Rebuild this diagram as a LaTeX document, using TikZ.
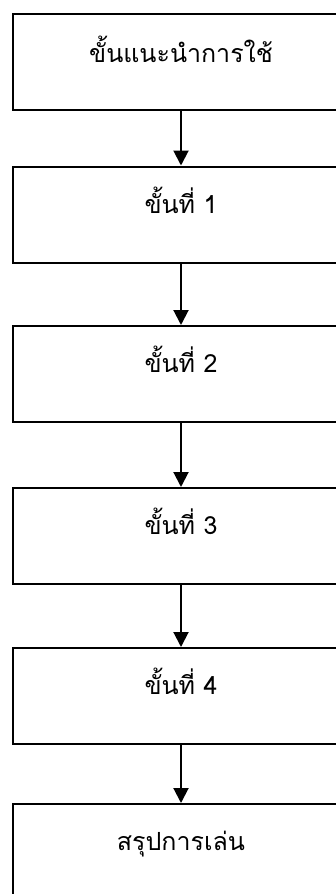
\documentclass[tikz,border=0pt]{standalone}
\usepackage{fontspec}
\newfontfamily\thaifont[Script=Thai]{Loma}
\usetikzlibrary{arrows.meta}
\begin{document}
\begin{tikzpicture}[x=1pt,y=-1pt,
  stepbox/.style={draw=black,line width=2pt,rectangle,minimum width=336pt,minimum height=96pt,inner sep=0pt,fill=white},
  steptext/.style={anchor=base,font=\thaifont\fontsize{25}{30}\selectfont,inner sep=0pt},
  flow/.style={line width=2pt,-{Triangle[width=15pt,length=15pt]}}]
\useasboundingbox (0,0) rectangle (336,894);
\fill[white] (0,0) rectangle (336,894);
\begin{scope}
\clip (0,0) rectangle (336,894);
\node[stepbox] (b1) at (181,62) {};
\node[stepbox] (b2) at (181,214.5) {};
\node[stepbox] (b3) at (181,374) {};
\node[stepbox] (b4) at (181,536) {};
\node[stepbox] (b5) at (181,696) {};
\node[stepbox] (b6) at (181,852) {};
\node[steptext] (t1) at (181,62) {ขั้นแนะนำการใช้};
\node[steptext] (t2) at (181,213) {ขั้นที่ 1};
\node[steptext] (t3) at (181,372) {ขั้นที่ 2};
\node[steptext] (t4) at (181,534) {ขั้นที่ 3};
\node[steptext] (t5) at (181,694) {ขั้นที่ 4};
\node[steptext] (t6) at (181,850) {สรุปการเล่น};
\draw[flow] (b1.south) -- (b2.north);
\draw[flow] (b2.south) -- (b3.north);
\draw[flow] (b3.south) -- (b4.north);
\draw[flow] (b4.south) -- (b5.north);
\draw[flow] (b5.south) -- (b6.north);
\end{scope}
\end{tikzpicture}
\end{document}
